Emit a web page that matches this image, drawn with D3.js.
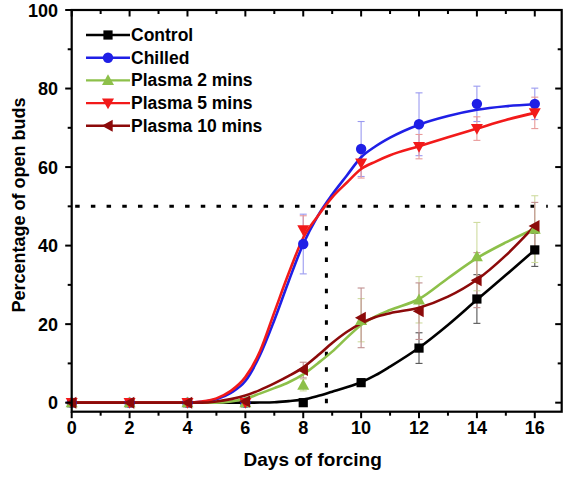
<!DOCTYPE html>
<html><head><meta charset="utf-8">
<script src="https://cdn.jsdelivr.net/npm/d3@7"></script>
<style>body{margin:0;background:#fff}svg{display:block}text{font-family:"Liberation Sans",Arial,sans-serif;font-weight:bold}</style>
</head><body>
<script>
// ---- data ----
const days = [0, 2, 4, 6, 8, 10, 12, 14, 16];
const seriesNames = ["Control", "Chilled", "Plasma 2 mins", "Plasma 5 mins", "Plasma 10 mins"];
const control  = [0, 0, 0, 0, 0, 5.1, 13.9, 26.4, 38.9];
const chilled  = [0, 0, 0, 0, 40.4, 64.6, 70.9, 76.1, 76.1];
const plasma2  = [0, 0, 0, 0, 4.5, 21, 26.2, 37.2, 44.2];
const plasma5  = [0, 0, 0, 0, 44, 61, 65.2, 69.8, 73.8];
const plasma10 = [0, 0, 0, 0.3, 8.3, 21.6, 23.3, 31.2, 45];
const controlErr  = [0, 0, 0, 0, 0, 0.8, 3.9, 6.2, 4.2];
const chilledErr  = [0, 0, 0, 0, 7.6, 7, 8, 4.5, 4];
const plasma2Err  = [0, 0, 0, 0, 1.5, 5.5, 5.9, 8.7, 8.5];
const plasma5Err  = [0, 0, 0, 0, 3.6, 3.8, 3.1, 3, 4];
const plasma10Err = [0, 0, 0, 0, 2, 7.6, 7.2, 7, 6];
// fitted curves
const fitDays      = [0, 4, 4.5, 5, 5.5, 6, 6.5, 7, 7.5, 8, 8.5, 9, 9.5, 10, 10.5, 11, 12, 13, 14, 15, 16];
const controlFit   = [0, 0, 0, 0, 0, 0, 0.03, 0.1, 0.4, 0.8, 1.7, 2.8, 3.9, 5.2, 7, 9.2, 14, 19.8, 26.2, 32.5, 38.9];
const chilledFit   = [0, 0, 0.2, 0.9, 2.5, 5.5, 12, 21, 31, 40.4, 47.5, 53, 57.8, 62.5, 65.3, 67.5, 70.8, 73, 74.6, 75.5, 76];
const plasma2Fit   = [0, 0, 0, 0, 0.3, 1, 2.3, 3.7, 5.2, 7.2, 10, 13, 16.5, 19.8, 22, 23.6, 26.4, 31.7, 36.8, 40.8, 44.3];
const plasma5Fit   = [0, 0, 0.3, 1.1, 3, 6.5, 13, 23, 33, 42, 47.5, 52.3, 56, 59.5, 61.4, 63, 65.3, 67.6, 69.8, 72, 73.8];
const plasma10Fit  = [0, 0, 0, 0.3, 0.9, 1.8, 3.2, 4.9, 6.8, 9, 12, 15.2, 18, 20.2, 21.8, 22.8, 24.2, 27, 31.3, 37.5, 45];
const xTicks = [0, 2, 4, 6, 8, 10, 12, 14, 16];
const yTicks = [0, 20, 40, 60, 80, 100];
const threshold = 50, t50 = 8.8;

const W = 566, H = 477;
const svg = d3.select("body").append("svg").attr("width", W).attr("height", H);
const x = d3.scaleLinear().domain([0, 16.93]).range([71.7, 561.7]);
const y = d3.scaleLinear().domain([-2.3, 100]).range([411.7, 10]);

const series = [
  {name: seriesNames[0], v: control,  e: controlErr,  f: controlFit,  c: "#000000", ec: "#555555", m: "square"},
  {name: seriesNames[1], v: chilled,  e: chilledErr,  f: chilledFit,  c: "#1f1fe6", ec: "#9a9af0", m: "circle"},
  {name: seriesNames[2], v: plasma2,  e: plasma2Err,  f: plasma2Fit,  c: "#8dc04a", ec: "#cfdca0", m: "up"},
  {name: seriesNames[3], v: plasma5,  e: plasma5Err,  f: plasma5Fit,  c: "#f21a1a", ec: "#e89a9a", m: "down"},
  {name: seriesNames[4], v: plasma10, e: plasma10Err, f: plasma10Fit, c: "#8c0a0a", ec: "#c09090", m: "left"}
];

function marker(g, type, cx, cy, col) {
  const s = 5.2;
  if (type === "square") g.append("rect").attr("x", cx - 4.6).attr("y", cy - 4.6).attr("width", 9.2).attr("height", 9.2).attr("fill", col);
  else if (type === "circle") g.append("circle").attr("cx", cx).attr("cy", cy).attr("r", 5.2).attr("fill", col);
  else {
    let p;
    if (type === "up") p = [[cx, cy - s - 1], [cx - s - 0.8, cy + s - 0.5], [cx + s + 0.8, cy + s - 0.5]];
    if (type === "down") p = [[cx, cy + s + 1], [cx - s - 0.8, cy - s + 0.5], [cx + s + 0.8, cy - s + 0.5]];
    if (type === "left") p = [[cx - s - 1, cy], [cx + s - 0.5, cy - s - 0.8], [cx + s - 0.5, cy + s + 0.8]];
    g.append("polygon").attr("points", p.map(d => d.join(",")).join(" ")).attr("fill", col);
  }
}

// dotted reference lines
svg.append("line").attr("x1", x(0.12)).attr("x2", x(16.45)).attr("y1", y(threshold)).attr("y2", y(threshold))
  .attr("stroke", "#000").attr("stroke-width", 3).attr("stroke-dasharray", "4.5,11.2");
svg.append("line").attr("x1", x(t50)).attr("x2", x(t50)).attr("y1", y(threshold) + 4).attr("y2", y(-2.3))
  .attr("stroke", "#000").attr("stroke-width", 3).attr("stroke-dasharray", "4.5,11.2");

const line = d3.line().x((d, i) => x(fitDays[i])).y(d => y(d)).curve(d3.curveMonotoneX);

// error bars
series.forEach(s => {
  const g = svg.append("g");
  days.forEach((d, i) => {
    if (s.e[i] <= 0) return;
    const cx = x(d), y1 = y(s.v[i] + s.e[i]), y2 = y(s.v[i] - s.e[i]);
    g.append("line").attr("x1", cx).attr("x2", cx).attr("y1", y1).attr("y2", y2).attr("stroke", s.ec).attr("stroke-width", 1.1);
    [y1, y2].forEach(yy => g.append("line").attr("x1", cx - 3.5).attr("x2", cx + 3.5).attr("y1", yy).attr("y2", yy).attr("stroke", s.ec).attr("stroke-width", 1.1));
  });
});
// curves and markers
series.forEach(s => {
  svg.append("path").attr("d", line(s.f)).attr("fill", "none").attr("stroke", s.c).attr("stroke-width", 2.6);
});
series.forEach(s => {
  const g = svg.append("g");
  days.forEach((d, i) => marker(g, s.m, x(d), y(s.v[i]), s.c));
});

// frame
const [x0, x1] = x.range(), [y0, y1] = y.range();
svg.append("rect").attr("x", x0).attr("y", y1).attr("width", x1 - x0).attr("height", y0 - y1)
  .attr("fill", "none").attr("stroke", "#000").attr("stroke-width", 2.2);

// ticks
const tk = svg.append("g").attr("stroke", "#000").attr("stroke-width", 2);
d3.range(0, 17, 1).forEach(d => {
  const len = d % 2 === 0 ? 6.5 : 4;
  tk.append("line").attr("x1", x(d)).attr("x2", x(d)).attr("y1", y0).attr("y2", y0 + len);
  tk.append("line").attr("x1", x(d)).attr("x2", x(d)).attr("y1", y1).attr("y2", y1 + len);
});
d3.range(0, 101, 10).forEach(v => {
  const len = v % 20 === 0 ? 6.5 : 4;
  tk.append("line").attr("x1", x0).attr("x2", x0 - len).attr("y1", y(v)).attr("y2", y(v));
  tk.append("line").attr("x1", x1).attr("x2", x1 - len).attr("y1", y(v)).attr("y2", y(v));
});
xTicks.forEach(d => svg.append("text").attr("x", x(d)).attr("y", 434).attr("text-anchor", "middle")
  .attr("font-size", 18).text(d));
yTicks.forEach(v => svg.append("text").attr("x", 58).attr("y", y(v) + 6.5).attr("text-anchor", "end")
  .attr("font-size", 18).text(v));

svg.append("text").attr("x", (x0 + x1) / 2 - 4).attr("y", 466).attr("text-anchor", "middle").attr("font-size", 19).text("Days of forcing");
svg.append("text").attr("transform", "translate(25,205) rotate(-90)").attr("text-anchor", "middle").attr("font-size", 18).text("Percentage of open buds");

// legend
series.forEach((s, i) => {
  const ly = 35 + i * 22.7;
  svg.append("line").attr("x1", 86).attr("x2", 130).attr("y1", ly).attr("y2", ly).attr("stroke", s.c).attr("stroke-width", 2.4);
  marker(svg, s.m, 108, ly, s.c);
  svg.append("text").attr("x", 131).attr("y", ly + 6).attr("font-size", 17.5).text(s.name);
});
</script>
</body></html>
